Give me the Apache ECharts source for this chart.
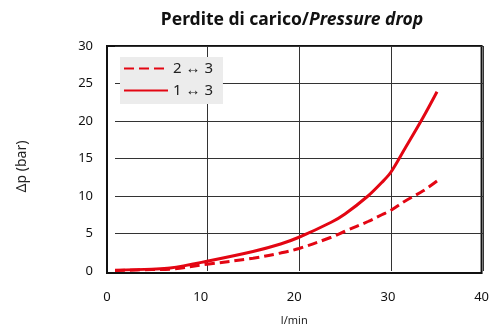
<!DOCTYPE html>
<html>
<head>
<meta charset="utf-8">
<script src="https://cdn.jsdelivr.net/npm/echarts@6/dist/echarts.min.js"></script>
<style>html,body{margin:0;padding:0;background:#fff}#c{width:492px;height:331px}</style>
</head>
<body>
<div id="c"></div>
<script>
const flow = [0, 4, 6, 10, 15, 18, 20, 23.5, 25, 27.5, 29, 30, 31.5, 33.5, 35];
const drop13 = [0.1, 0.25, 0.4, 1.3, 2.6, 3.6, 4.5, 6.5, 7.6, 10.0, 11.8, 13.2, 16.3, 20.5, 23.9];
const drop23 = [0.05, 0.2, 0.25, 0.9, 1.7, 2.4, 3.0, 4.5, 5.3, 6.6, 7.5, 8.1, 9.3, 10.7, 12.0];
const seriesNames = ['2 ↔ 3', '1 ↔ 3'];
const xTicks = [0, 10, 20, 30, 40];
const yTicks = [0, 5, 10, 15, 20, 25, 30];

const FONT = 'Noto Sans';
const RED = '#e30613';
const chart = echarts.init(document.getElementById('c'), null, {renderer: 'canvas'});
const pairs = (ys) => flow.map((x, i) => [x, ys[i]]);
const gridColX = xTicks.map(v => v === 0 ? 'rgba(0,0,0,0)' : '#333');
const gridColY = yTicks.map(v => v === 0 ? 'rgba(0,0,0,0)' : '#333');

chart.setOption({
  animation: false,
  backgroundColor: '#fff',
  title: {
    text: '{b|Perdite di carico/}{i|Pressure drop}',
    left: 287, top: 6, textAlign: 'center',
    textStyle: {
      rich: {
        b: {fontFamily: FONT, fontWeight: 'bold', fontSize: 17.5, color: '#111'},
        i: {fontFamily: FONT, fontWeight: 'bold', fontStyle: 'italic', fontSize: 17.5, color: '#111'}
      }
    }
  },
  legend: {
    data: seriesNames,
    orient: 'vertical',
    left: 120, top: 57,
    padding: [4, 10, 6, 3],
    itemWidth: 44, itemHeight: 14, itemGap: 7,
    backgroundColor: '#ececec',
    itemStyle: {opacity: 0},
    textStyle: {fontFamily: FONT, fontSize: 15, color: '#222'}
  },
  grid: [
    {left: 107, right: 9, top: 46, bottom: 56, show: true, borderColor: '#111', borderWidth: 2, backgroundColor: 'transparent'},
    {left: 115, right: 9, top: 46, bottom: 60}
  ],
  xAxis: [
    {gridIndex: 0, type: 'value', min: xTicks[0], max: xTicks[xTicks.length - 1], interval: 10,
     axisLine: {show: false}, axisTick: {show: false}, splitLine: {show: false},
     axisLabel: {margin: 18, fontFamily: FONT, fontSize: 13, color: '#111'},
     name: 'l/min', nameLocation: 'middle', nameGap: 42,
     nameTextStyle: {fontFamily: FONT, fontSize: 11, color: '#222'}},
    {gridIndex: 1, type: 'value', min: xTicks[0], max: xTicks[xTicks.length - 1], interval: 10,
     axisLine: {show: false}, axisTick: {show: false}, axisLabel: {show: false},
     splitLine: {show: true, lineStyle: {color: gridColX, width: 1}}}
  ],
  yAxis: [
    {gridIndex: 0, type: 'value', min: 0, max: 30, show: false},
    {gridIndex: 1, type: 'value', min: yTicks[0], max: yTicks[yTicks.length - 1], interval: 5,
     axisLine: {show: false}, axisTick: {show: false},
     axisLabel: {margin: 22, fontFamily: FONT, fontSize: 13, color: '#111'},
     splitLine: {show: true, lineStyle: {color: gridColY, width: 1}},
     name: 'Δp (bar)', nameLocation: 'middle', nameGap: 86,
     nameTextStyle: {fontFamily: FONT, fontSize: 14, color: '#222', padding: [0, 16, 0, 0]}}
  ],
  series: [
    {name: seriesNames[0], type: 'line', xAxisIndex: 1, yAxisIndex: 1, smooth: 0.35, symbol: 'none',
     lineStyle: {color: RED, width: 3, type: [10, 5]}, itemStyle: {color: RED},
     data: pairs(drop23)},
    {name: seriesNames[1], type: 'line', xAxisIndex: 1, yAxisIndex: 1, smooth: 0.35, symbol: 'none',
     lineStyle: {color: RED, width: 3}, itemStyle: {color: RED},
     data: pairs(drop13)}
  ]
});
</script>
</body>
</html>
